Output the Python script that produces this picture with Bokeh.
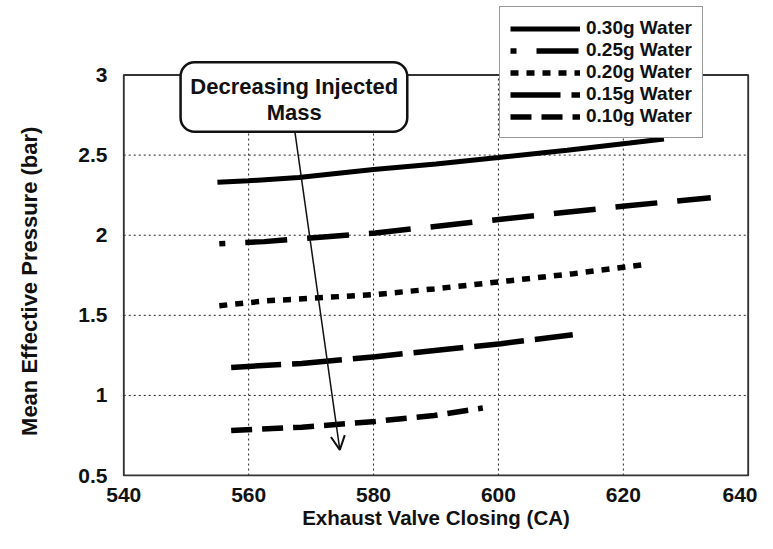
from bokeh.plotting import figure
from bokeh.models import (Legend, LegendItem, BoxAnnotation, Label, Arrow, OpenHead,
                          FixedTicker, Range1d)
from bokeh.embed import file_html
from bokeh.resources import INLINE

# ---- data ----
x_ticks = [540, 560, 580, 600, 620, 640]
y_ticks = [0.5, 1, 1.5, 2, 2.5, 3]
y_tick_labels = ["0.5", "1", "1.5", "2", "2.5", "3"]

evc_030 = [555, 560, 568, 580, 590, 600, 611, 621, 626.5]
mep_030 = [2.33, 2.34, 2.36, 2.41, 2.445, 2.485, 2.53, 2.575, 2.60]

evc_025 = [555.3, 562.5, 580.3, 600.4, 620.7, 634]
mep_025 = [1.947, 1.96, 2.014, 2.10, 2.184, 2.234]

evc_020 = [555.3, 562.7, 580.3, 589.7, 600.4, 612, 624]
mep_020 = [1.56, 1.59, 1.63, 1.665, 1.71, 1.76, 1.82]

evc_015 = [557.2, 568.5, 580.3, 600.4, 611.9]
mep_015 = [1.175, 1.20, 1.242, 1.323, 1.379]

evc_010 = [557.2, 568.5, 580.3, 589.7, 597.5]
mep_010 = [0.781, 0.802, 0.838, 0.875, 0.921]

series_labels = ["0.30g Water", "0.25g Water", "0.20g Water", "0.15g Water", "0.10g Water"]

FONT = "Liberation Sans"
INK = "#111111"

X0, X1 = x_ticks[0], x_ticks[-1]
Y0, Y1 = y_ticks[0], y_ticks[-1]

p = figure(width=757, height=533, output_backend="svg", toolbar_location=None,
           x_range=Range1d(X0 - 0.2, X1 + 0.2), y_range=Range1d(Y0 - 0.006, 3.465),
           min_border_left=122, min_border_right=8, min_border_top=0,
           min_border_bottom=57, background_fill_color="white",
           border_fill_color="white")
p.outline_line_color = None
p.xgrid.visible = False
p.ygrid.visible = False

for ax in (p.xaxis[0], p.yaxis[0]):
    ax.major_tick_in = 0
    ax.major_tick_out = 0
    ax.minor_tick_in = 0
    ax.minor_tick_out = 0
    ax.axis_line_color = None
    ax.major_label_text_font = FONT
    ax.major_label_text_font_style = "bold"
    ax.major_label_text_font_size = "21px"
    ax.major_label_text_color = INK
    ax.axis_label_text_font = FONT
    ax.axis_label_text_font_style = "bold"
    ax.axis_label_text_font_size = "20.5px"
    ax.axis_label_text_color = INK

p.xaxis.ticker = FixedTicker(ticks=x_ticks)
p.yaxis.ticker = FixedTicker(ticks=y_ticks)
p.xaxis.bounds = (X0, X1)
p.yaxis.bounds = (Y0, Y1)
p.yaxis.major_label_overrides = {t: l for t, l in zip(y_ticks, y_tick_labels)}
p.xaxis.axis_label = "Exhaust Valve Closing (CA)"
# trailing no-break spaces push the visible label down to centre it on the 0.5-3 span
p.yaxis.axis_label = "Mean Effective Pressure (bar)" + "\u00a0" * 14
p.yaxis.axis_label_text_font_size = "22px"
p.xaxis.major_label_standoff = 11
p.yaxis.major_label_standoff = 15
p.xaxis.axis_label_standoff = 1
p.yaxis.axis_label_standoff = 33

# dotted grid limited to the 0.5..3 / 540..640 box
gx = x_ticks[1:-1]
gy = y_ticks[1:-1]
p.segment(x0=gx, y0=[Y0] * len(gx), x1=gx, y1=[Y1] * len(gx),
          line_color="#222222", line_width=1, line_dash="2 3")
p.segment(x0=[X0] * len(gy), y0=gy, x1=[X1] * len(gy), y1=gy,
          line_color="#222222", line_width=1, line_dash="2 3")

# plot frame
p.quad(left=[X0], right=[X1], bottom=[Y0], top=[Y1], fill_color=None,
       line_color="#333333", line_width=2)

lw = 5.5
r30 = p.line(evc_030, mep_030, line_color="black", line_width=5)
r25 = p.line(evc_025, mep_025, line_color="black", line_width=lw, line_dash="42 20",
             line_dash_offset=36)
r20 = p.line(evc_020, mep_020, line_color="black", line_width=lw, line_dash="8 8")
r15 = p.line(evc_015, mep_015, line_color="black", line_width=lw, line_dash="50 11")
r10 = p.line(evc_010, mep_010, line_color="black", line_width=lw, line_dash="21 10")

# annotation box + arrow
box = BoxAnnotation(left=549.1, right=585.4, bottom=2.646, top=3.08,
                    fill_color="white", fill_alpha=1, line_color=INK, line_alpha=1,
                    line_width=2.5, border_radius=14)
p.add_layout(box)
p.add_layout(Label(x=567.3, y=2.93, text="Decreasing Injected", text_align="center",
                   text_baseline="middle", text_font=FONT, text_font_style="bold",
                   text_font_size="22px", text_color=INK))
p.add_layout(Label(x=567.3, y=2.765, text="Mass", text_align="center",
                   text_baseline="middle", text_font=FONT, text_font_style="bold",
                   text_font_size="22px", text_color=INK))
p.add_layout(Arrow(x_start=567.4, y_start=2.646, x_end=574.6, y_end=0.66,
                   line_width=1.5, line_color=INK,
                   end=OpenHead(size=14, line_width=2, line_color=INK)))

legend = Legend(items=[LegendItem(label=lab, renderers=[r])
                       for lab, r in zip(series_labels, [r30, r25, r20, r15, r10])],
                location=(377, 338), glyph_width=70, glyph_height=21, label_height=21,
                label_standoff=6, spacing=0, padding=10, margin=0,
                label_text_font=FONT, label_text_font_style="bold",
                label_text_font_size="19px", label_text_color=INK,
                border_line_color="#333333", border_line_width=1.5,
                background_fill_color="white", background_fill_alpha=1)
p.add_layout(legend)

open("out.html", "w").write(file_html(p, INLINE))
